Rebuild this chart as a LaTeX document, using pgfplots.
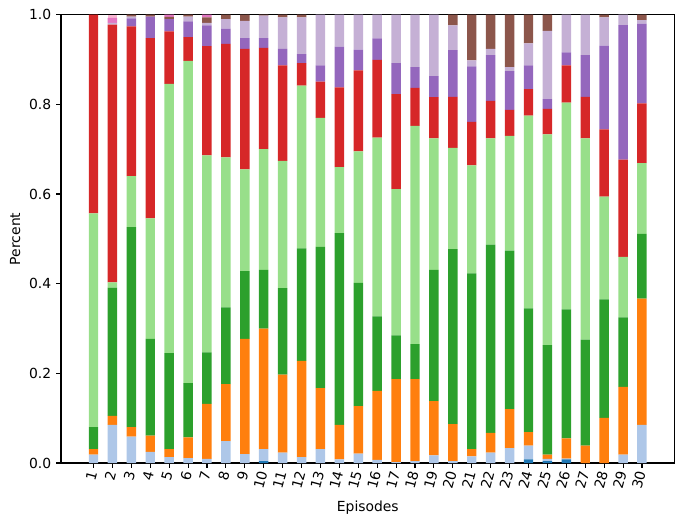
\documentclass[border=0pt]{standalone}
\usepackage{fontspec}
\setmainfont{DejaVu Sans}
\usepackage{pgfplots}
\pgfplotsset{compat=1.18}
\usepackage{pgfplotstable}
\definecolor{cB}{HTML}{1F77B4}
\definecolor{cLB}{HTML}{AEC7E8}
\definecolor{cO}{HTML}{FF7F0E}
\definecolor{cG}{HTML}{2CA02C}
\definecolor{cLG}{HTML}{98DF8A}
\definecolor{cR}{HTML}{D62728}
\definecolor{cP}{HTML}{9467BD}
\definecolor{cLP}{HTML}{C5B0D5}
\definecolor{cBr}{HTML}{8C564B}
\definecolor{cPk}{HTML}{E377C2}
\definecolor{cLPk}{HTML}{F7B6D2}
\pgfplotstableread{
ep b lb or g lg r p lp br pk lpk
1 0 0.019 0.012 0.049 0.477 0.443 0 0 0 0 0
2 0 0.085 0.020 0.286 0.012 0.575 0 0.004 0 0.011 0.007
3 0 0.059 0.021 0.446 0.114 0.334 0.018 0.004 0.004 0 0
4 0 0.025 0.036 0.216 0.269 0.402 0.048 0 0.004 0 0
5 0 0.013 0.018 0.214 0.601 0.117 0.027 0 0.005 0.005 0
6 0 0.011 0.046 0.121 0.719 0.053 0.035 0.011 0.004 0 0
7 0 0.009 0.123 0.115 0.439 0.244 0.046 0.006 0.012 0.006 0
8 0 0.049 0.127 0.171 0.335 0.253 0.034 0.021 0.010 0 0
9 0 0.020 0.257 0.151 0.227 0.269 0.024 0.038 0.014 0 0
10 0.004 0.027 0.269 0.131 0.269 0.226 0.022 0.050 0.002 0 0
11 0 0.023 0.174 0.193 0.284 0.213 0.037 0.070 0.006 0 0
12 0 0.013 0.215 0.251 0.363 0.050 0.020 0.082 0.006 0 0
13 0 0.031 0.136 0.315 0.288 0.081 0.036 0.113 0 0 0
14 0 0.008 0.077 0.428 0.147 0.178 0.091 0.071 0 0 0
15 0 0.021 0.106 0.275 0.293 0.181 0.046 0.078 0 0 0
16 0 0.007 0.154 0.166 0.399 0.173 0.048 0.053 0 0 0
17 0 0.002 0.185 0.098 0.326 0.212 0.069 0.108 0 0 0
18 0 0.004 0.183 0.078 0.487 0.085 0.046 0.117 0 0 0
19 0 0.017 0.121 0.293 0.293 0.092 0.047 0.137 0 0 0
20 0 0.004 0.083 0.390 0.226 0.114 0.104 0.055 0.024 0 0
21 0 0.015 0.016 0.392 0.241 0.097 0.124 0.013 0.102 0 0
22 0 0.023 0.044 0.420 0.237 0.084 0.102 0.014 0.076 0 0
23 0 0.033 0.087 0.354 0.256 0.058 0.086 0.009 0.117 0 0
24 0.008 0.031 0.030 0.276 0.430 0.059 0.053 0.049 0.064 0 0
25 0.004 0.005 0.010 0.244 0.470 0.057 0.022 0.152 0.036 0 0
26 0.008 0.002 0.045 0.288 0.461 0.083 0.029 0.084 0 0 0
27 0 0 0.039 0.236 0.449 0.093 0.093 0.090 0 0 0
28 0 0 0.101 0.264 0.229 0.150 0.187 0.063 0.006 0 0
29 0 0.019 0.151 0.155 0.135 0.217 0.300 0.023 0 0 0
30 0 0.085 0.282 0.144 0.158 0.133 0.178 0.008 0.012 0 0
}\data
\begin{document}
\begin{tikzpicture}
\useasboundingbox (-43.9pt,-43.9pt) rectangle (452.2pt,333.4pt);
\begin{axis}[
  at={(0pt,0pt)}, anchor=south west,
  scale only axis, width=441.9pt, height=322.8pt,
  ybar stacked, bar width=0.5,
  xmin=-0.72, xmax=31.73, ymin=0, ymax=1,
  xtick={1,...,30}, ytick={0,0.2,0.4,0.6,0.8,1},
  axis x line*=box, axis y line*=box,
  axis line style={line width=0.8pt, black},
  tick align=outside, major tick length=3.5pt,
  every tick/.style={line width=0.8pt, black},
  xtick pos=bottom, ytick pos=left,
  /pgf/number format/assume math mode=true,
  yticklabel style={/pgf/number format/.cd, fixed, fixed zerofill, precision=1},
  xticklabel style={rotate=75, anchor=east, xshift=1pt},
  xlabel={Episodes}, ylabel={Percent},
  xlabel style={at={(rel axis cs:0.5,0)}, anchor=center, yshift=-32pt},
  ylabel style={at={(rel axis cs:0,0.5)}, anchor=center, yshift=33pt},
  every axis plot/.append style={draw=none},
]
\addplot[fill=cB] table[x=ep,y=b]{\data};
\addplot[fill=cLB] table[x=ep,y=lb]{\data};
\addplot[fill=cO] table[x=ep,y=or]{\data};
\addplot[fill=cG] table[x=ep,y=g]{\data};
\addplot[fill=cLG] table[x=ep,y=lg]{\data};
\addplot[fill=cR] table[x=ep,y=r]{\data};
\addplot[fill=cP] table[x=ep,y=p]{\data};
\addplot[fill=cLP] table[x=ep,y=lp]{\data};
\addplot[fill=cBr] table[x=ep,y=br]{\data};
\addplot[fill=cPk] table[x=ep,y=pk]{\data};
\addplot[fill=cLPk] table[x=ep,y=lpk]{\data};
\end{axis}
\end{tikzpicture}
\end{document}
